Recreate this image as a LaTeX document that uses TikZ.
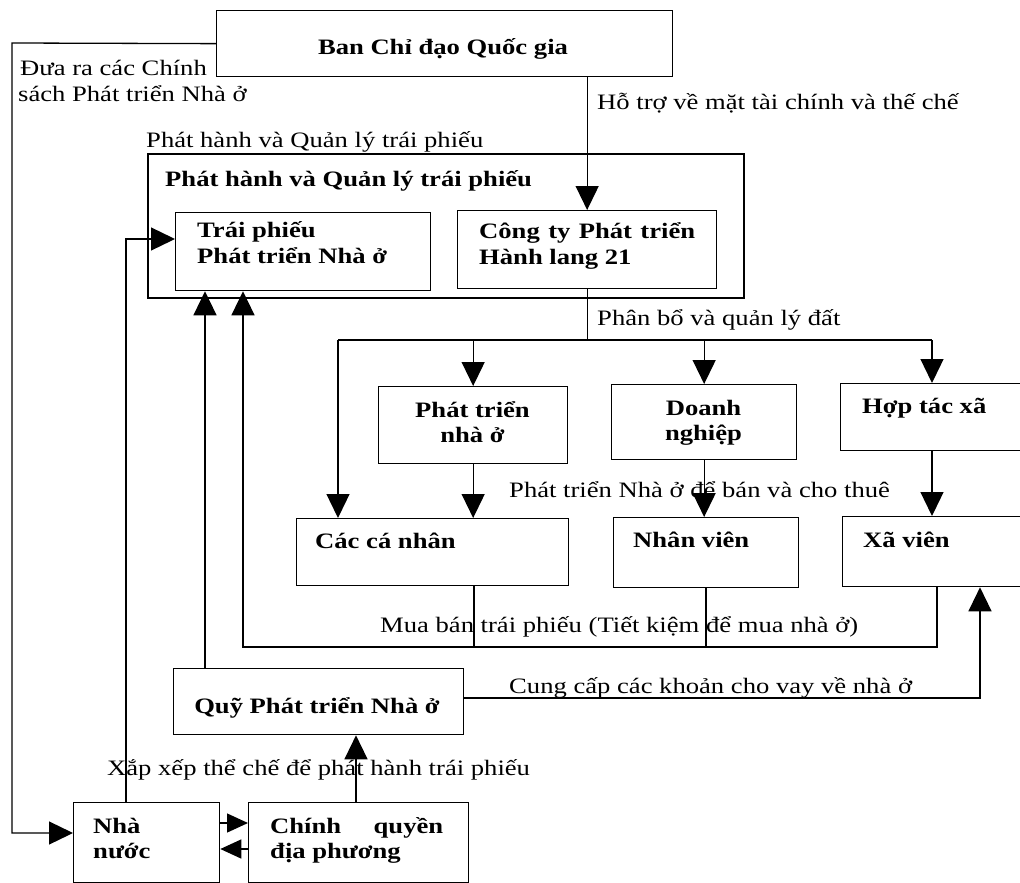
\documentclass[tikz,border=0pt]{standalone}
\usepackage{fontspec}
\setmainfont{Liberation Serif}[FakeStretch=1.21]
\usetikzlibrary{arrows.meta}
\begin{document}
\begin{tikzpicture}[x=1pt,y=-1pt,
  box/.style={draw,line width=1.3pt,inner sep=0pt,anchor=north west},
  lbl/.style={inner sep=0pt,anchor=base west,font=\fontsize{22}{26}\selectfont},
  blbl/.style={inner sep=0pt,anchor=base west,font=\fontsize{22}{26}\selectfont\bfseries},
  con/.style={line width=1.3pt},
  arr/.style={line width=1.3pt,-{Triangle[length=24pt,width=23pt]}},
  arrs/.style={line width=1.3pt,-{Triangle[length=21pt,width=19pt]}}]
\useasboundingbox (0,0) rectangle (1020,883);
\clip (0,0) rectangle (1020,883);
% boxes
\node[box,line width=1.6pt,minimum width=596pt,minimum height=144pt] (outer) at (147,153) {};
\node[box,minimum width=456pt,minimum height=66pt] (ban) at (216,10) {};
\node[box,minimum width=255pt,minimum height=78pt] (trai) at (175,212) {};
\node[box,minimum width=259pt,minimum height=78pt] (cty) at (457,210) {};
\node[box,minimum width=189pt,minimum height=77pt] (ptn) at (378,386) {};
\node[box,minimum width=185pt,minimum height=75pt] (dn) at (611,384) {};
\node[box,minimum width=200pt,minimum height=67pt] (htx) at (840,383) {};
\node[box,minimum width=272pt,minimum height=67pt] (ccn) at (296,518) {};
\node[box,minimum width=185pt,minimum height=70pt] (nv) at (613,517) {};
\node[box,minimum width=200pt,minimum height=70pt] (xv) at (842,516) {};
\node[box,minimum width=290pt,minimum height=66pt] (quy) at (173,668) {};
\node[box,minimum width=146pt,minimum height=80pt] (nn) at (73,802) {};
\node[box,minimum width=220pt,minimum height=80pt] (cq) at (248,802) {};
% box texts
\node[blbl,anchor=base] (tban) at (443,55) {Ban Chỉ đạo Quốc gia};
\node[blbl] (touter) at (165,186) {Phát hành và Quản lý trái phiếu};
\node[blbl] (ttrai1) at (197,237) {Trái phiếu};
\node[blbl] (ttrai2) at (197,263) {Phát triển Nhà ở};
\node[blbl] (tcty1) at (479,238) {\makebox[216pt][s]{Công ty Phát triển}};
\node[blbl] (tcty2) at (479,264) {Hành lang 21};
\node[blbl,anchor=base] (tptn1) at (472.5,417) {Phát triển};
\node[blbl,anchor=base] (tptn2) at (472.5,442) {nhà ở};
\node[blbl,anchor=base] (tdn1) at (703.5,415) {Doanh};
\node[blbl,anchor=base] (tdn2) at (703.5,440) {nghiệp};
\node[blbl] (thtx) at (862,413) {Hợp tác xã};
\node[blbl] (tccn) at (315,548) {Các cá nhân};
\node[blbl] (tnv) at (633,547) {Nhân viên};
\node[blbl] (txv) at (863,547) {Xã viên};
\node[blbl,anchor=base] (tquy) at (317,713) {Quỹ Phát triển Nhà ở};
\node[blbl] (tnn1) at (93,833) {Nhà};
\node[blbl] (tnn2) at (93,858) {nước};
\node[blbl] (tcq1) at (270,833) {\makebox[173pt][s]{Chính quyền}};
\node[blbl] (tcq2) at (270,858) {địa phương};
% labels
\node[lbl] (l1a) at (20,76) {Đưa ra các Chính};
\node[lbl] (l1b) at (18,101) {sách Phát triển Nhà ở};
\node[lbl] (l2) at (597,110) {Hỗ trợ về mặt tài chính và thế chế};
\node[lbl] (l3) at (146,147) {Phát hành và Quản lý trái phiếu};
\node[lbl] (l4) at (597,325) {Phân bổ và quản lý đất};
\node[lbl] (l5) at (509,497) {Phát triển Nhà ở để bán và cho thuê};
\node[lbl] (l6) at (380,632) {Mua bán trái phiếu (Tiết kiệm để mua nhà ở)};
\node[lbl] (l7) at (509,693) {Cung cấp các khoản cho vay về nhà ở};
\node[lbl] (l8) at (107,775) {Xắp xếp thể chế để phát hành trái phiếu};
% coordinates
\coordinate (L1) at (12,43);
\coordinate (L2) at (12,833);
\coordinate (P1) at (126,239);
\coordinate (xq) at (205,0);
\coordinate (mbL) at (243,647);
\coordinate (mbR) at (937,647);
\coordinate (xc) at (474,0);
\coordinate (xn) at (706,0);
\coordinate (a1) at (338,340);
\coordinate (a4) at (932,340);
\coordinate (q1) at (980,698);
\coordinate (c1) at (356,0);
\coordinate (r1) at (0,823);
\coordinate (r2) at (0,849);
% connectors
\draw[arr] (ban.south -| cty.north) -- (cty.north);
\draw[arr] (ban.west) -- (L1) -- (L2) -- (L2 -| nn.west);
\draw[arr] (nn.north -| P1) -- (P1) -- (P1 -| trai.west);
\draw[arr] (quy.north -| xq) -- (trai.south -| xq);
\draw[arr] (xv.south -| mbR) -- (mbR) -- (mbL) -- (mbL |- trai.south);
\draw[con] (ccn.south -| xc) -- (xc |- mbL);
\draw[con] (nv.south -| xn) -- (xn |- mbL);
\draw[con] (cty.south) -- (cty.south |- a1);
\draw[con] (a1) -- (a4);
\draw[arr] (a1) -- (a1 |- ccn.north);
\draw[arr] (ptn.north |- a1) -- (ptn.north);
\draw[arr] (dn.north |- a1) -- (dn.north);
\draw[arr] (a4) -- (a4 |- htx.north);
\draw[arr] (ptn.south) -- (ptn.south |- ccn.north);
\draw[arr] (dn.south) -- (dn.south |- nv.north);
\draw[arr] (a4 |- htx.south) -- (a4 |- xv.north);
\draw[arr] (q1 -| quy.east) -- (q1) -- (q1 |- xv.south);
\draw[arr] (cq.north -| c1) -- (quy.south -| c1);
\draw[arrs] (nn.east |- r1) -- (cq.west |- r1);
\draw[arrs] (cq.west |- r2) -- (nn.east |- r2);
\end{tikzpicture}
\end{document}
